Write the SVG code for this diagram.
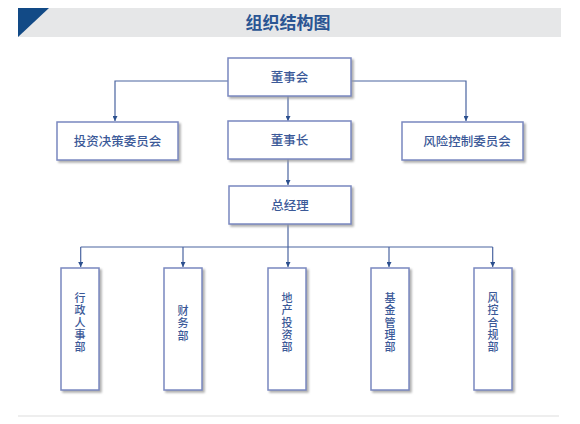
<svg xmlns="http://www.w3.org/2000/svg" width="580" height="424" viewBox="0 0 580 424">
<defs>
<marker id="arr" viewBox="0 0 10 10" refX="10" refY="5" markerWidth="6" markerHeight="5" markerUnits="userSpaceOnUse" orient="auto">
<path d="M0,0 L10,5 L0,10 z" fill="#2b4f8e"/>
</marker>
<filter id="sh" x="-10%" y="-10%" width="130%" height="130%">
<feDropShadow dx="2" dy="2" stdDeviation="0.8" flood-color="#999" flood-opacity="0.8"/>
</filter>
</defs>
<style>
.box{fill:#fff;stroke:#7a88c0;stroke-width:1.5;filter:url(#sh)}
.t{font-family:"Noto Sans CJK SC","Noto Sans",sans-serif;font-size:12.5px;fill:#3b5998;text-anchor:middle;font-weight:500}
.v{font-family:"Liberation Sans","Noto Sans CJK SC",sans-serif;font-size:11px;fill:#3b5998;text-anchor:middle;font-weight:500}
.ln{fill:none;stroke:#4a64a0;stroke-width:1.2}
.la{fill:none;stroke:#4a64a0;stroke-width:1.2;marker-end:url(#arr)}
</style>
<rect width="580" height="424" fill="#fff"/>
<g id="header">
<rect x="18" y="8" width="543" height="29" fill="#e6e7e8"/>
<polygon points="18,8 49,8 18,37" fill="#124a86"/>
<text x="288" y="29" font-family="'Noto Sans CJK SC','Noto Sans',sans-serif" font-size="17" font-weight="bold" fill="#2a5593" text-anchor="middle">组织结构图</text>
</g>
<line x1="18" y1="416" x2="559" y2="416" stroke="#dedede" stroke-width="1.2"/>
<g id="connectors">
<polyline class="la" points="228,81 115,81 115,121"/>
<polyline class="la" points="351,81 466,81 466,121"/>
<line class="la" x1="288" y1="96" x2="288" y2="121"/>
<line class="la" x1="288" y1="159" x2="288" y2="185"/>
<line class="ln" x1="288" y1="224" x2="288" y2="247"/>
<line class="ln" x1="80.7" y1="247" x2="492.7" y2="247"/>
<line class="la" x1="80.7" y1="247" x2="80.7" y2="267"/>
<line class="la" x1="183" y1="247" x2="183" y2="267"/>
<line class="la" x1="288" y1="247" x2="288" y2="267"/>
<line class="la" x1="389" y1="247" x2="389" y2="267"/>
<line class="la" x1="492.7" y1="247" x2="492.7" y2="267"/>
</g>
<g id="n-board"><rect class="box" x="228" y="58" width="123" height="38"/><text class="t" x="289.5" y="81.5">董事会</text></g>
<g id="n-invest"><rect class="box" x="57" y="122" width="121" height="38"/><text class="t" x="117.5" y="145.5">投资决策委员会</text></g>
<g id="n-chair"><rect class="box" x="228" y="121" width="123" height="38"/><text class="t" x="289.5" y="144.5">董事长</text></g>
<g id="n-risk"><rect class="box" x="402" y="122" width="121" height="38"/><text class="t" x="467" y="145.5">风险控制委员会</text></g>
<g id="n-gm"><rect class="box" x="229" y="186" width="122" height="38"/><text class="t" x="290" y="209.5">总经理</text></g>
<g id="n-admin"><rect class="box" x="61" y="268" width="38" height="122"/>
<text class="v" x="80" y="301.7">行</text><text class="v" x="80" y="314.1">政</text><text class="v" x="80" y="326.5">人</text><text class="v" x="80" y="338.9">事</text><text class="v" x="80" y="351.3">部</text></g>
<g id="n-finance"><rect class="box" x="164" y="268" width="38" height="122"/>
<text class="v" x="183" y="314.8">财</text><text class="v" x="183" y="327.2">务</text><text class="v" x="183" y="339.6">部</text></g>
<g id="n-estate"><rect class="box" x="268" y="268" width="38" height="122"/>
<text class="v" x="287" y="301.7">地</text><text class="v" x="287" y="314.1">产</text><text class="v" x="287" y="326.5">投</text><text class="v" x="287" y="338.9">资</text><text class="v" x="287" y="351.3">部</text></g>
<g id="n-fund"><rect class="box" x="371" y="268" width="38" height="122"/>
<text class="v" x="390" y="301.7">基</text><text class="v" x="390" y="314.1">金</text><text class="v" x="390" y="326.5">管</text><text class="v" x="390" y="338.9">理</text><text class="v" x="390" y="351.3">部</text></g>
<g id="n-compliance"><rect class="box" x="474" y="268" width="38" height="122"/>
<text class="v" x="493" y="301.7">风</text><text class="v" x="493" y="314.1">控</text><text class="v" x="493" y="326.5">合</text><text class="v" x="493" y="338.9">规</text><text class="v" x="493" y="351.3">部</text></g>
</svg>
